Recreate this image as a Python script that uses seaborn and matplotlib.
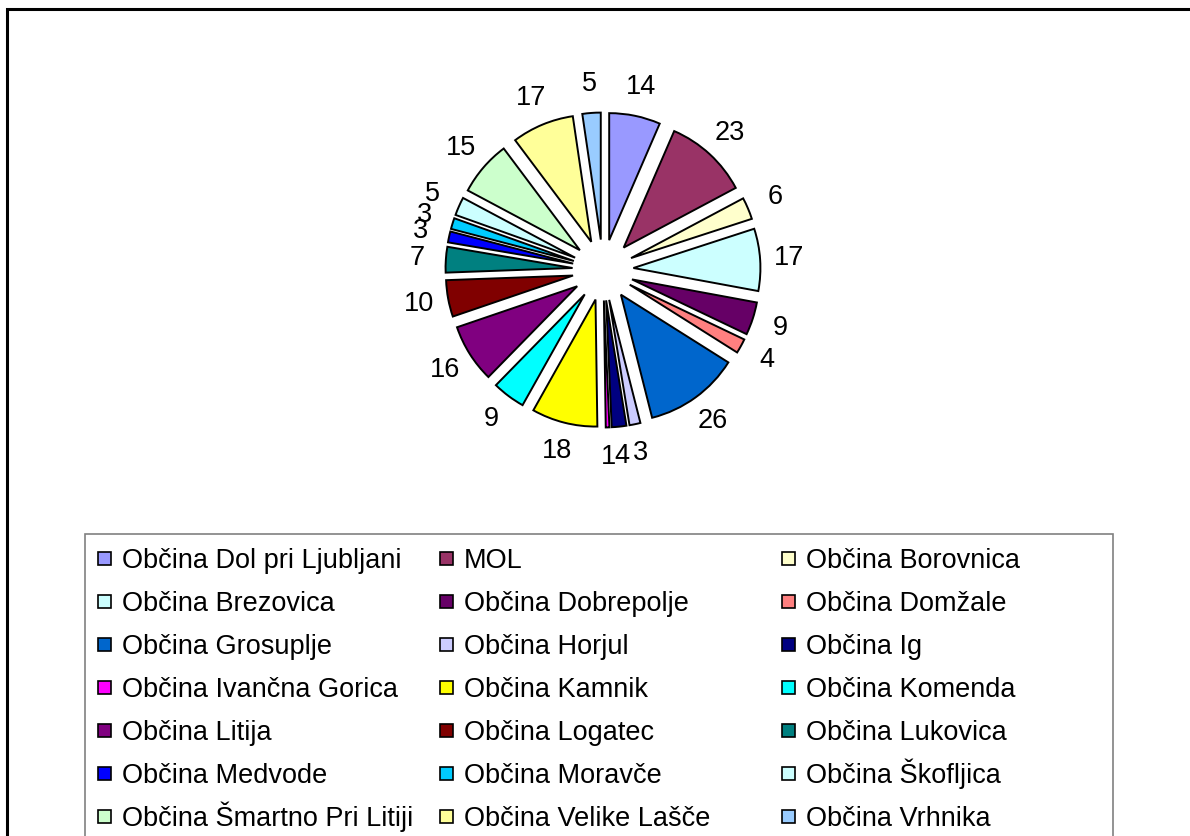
import matplotlib
matplotlib.use("Agg")
import matplotlib.pyplot as plt
import matplotlib.patches as mpatches
import seaborn as sns

sns.set_theme(style="white")
plt.rcParams['font.family'] = ['Liberation Sans', 'DejaVu Sans']
plt.rcParams['text.color'] = 'black'

# podatki
obcine = ['Občina Dol pri Ljubljani', 'MOL', 'Občina Borovnica',
          'Občina Brezovica', 'Občina Dobrepolje', 'Občina Domžale',
          'Občina Grosuplje', 'Občina Horjul', 'Občina Ig',
          'Občina Ivančna Gorica', 'Občina Kamnik', 'Občina Komenda',
          'Občina Litija', 'Občina Logatec', 'Občina Lukovica',
          'Občina Medvode', 'Občina Moravče', 'Občina Škofljica',
          'Občina Šmartno Pri Litiji', 'Občina Velike Lašče', 'Občina Vrhnika']
vrednosti = [14, 23, 6, 17, 9, 4, 26, 3, 4, 1, 18, 9, 16, 10, 7, 3, 3, 5, 15, 17, 5]
barve = ['#9999FF', '#993366', '#FFFFCC', '#CCFFFF', '#660066', '#FF8080',
         '#0066CC', '#CCCCFF', '#000080', '#FF00FF', '#FFFF00', '#00FFFF',
         '#800080', '#800000', '#008080', '#0000FF', '#00CCFF', '#CCFFFF',
         '#CCFFCC', '#FFFF99', '#99CCFF']

W, H = 1190, 836
fig = plt.figure(figsize=(W / 100, H / 100), dpi=100)
fig.patch.set_facecolor('white')


def fx(px):
    return px / W


def fy(py):
    return 1 - py / H


# okvir grafikona
fig.add_artist(mpatches.Rectangle((fx(7), -0.1), 1.2, fy(9) + 0.1,
                                  transform=fig.transFigure, fill=False,
                                  edgecolor='black', linewidth=2.2, clip_on=False))

# tortni graf
cx, cy, half = 603, 270, 200
ax = fig.add_axes([fx(cx - half), fy(cy + half), 2 * half / W, 2 * half / H])
r_px = 127
lim = half / r_px
wedges, texts = ax.pie(vrednosti, colors=barve, startangle=90, counterclock=False,
                       explode=[0.24] * len(vrednosti),
                       labels=[str(v) for v in vrednosti], labeldistance=1.23,
                       wedgeprops=dict(edgecolor='black', linewidth=1.4),
                       textprops=dict(fontsize=19.5, color='black'))
for t in texts:
    t.set_ha('center')
    t.set_va('center')
ax.set_xlim(-lim, lim)
ax.set_ylim(-lim, lim)
ax.set_aspect('equal')
ax.axis('off')

# okvir legende
fig.add_artist(mpatches.Rectangle((fx(85), -0.1), (1113 - 85) / W, fy(534) + 0.1,
                                  transform=fig.transFigure, fill=False,
                                  edgecolor='#808080', linewidth=1.2, clip_on=False))

# legenda: 3 stolpci, polnjeno po vrsticah
marker_x = [98, 440, 782]
text_x = [122, 464, 806]
for i, ime in enumerate(obcine):
    vr, st = divmod(i, 3)
    yc = 558 + 43 * vr
    fig.add_artist(mpatches.Rectangle((fx(marker_x[st]), fy(yc + 6.5)), 12.5 / W, 13 / H,
                                      transform=fig.transFigure, facecolor=barve[i],
                                      edgecolor='black', linewidth=1.2))
    fig.text(fx(text_x[st]), fy(yc + 9.7), ime, fontsize=19.5, color='black',
             ha='left', va='baseline')

fig.savefig('out.png', dpi=100, facecolor='white')
